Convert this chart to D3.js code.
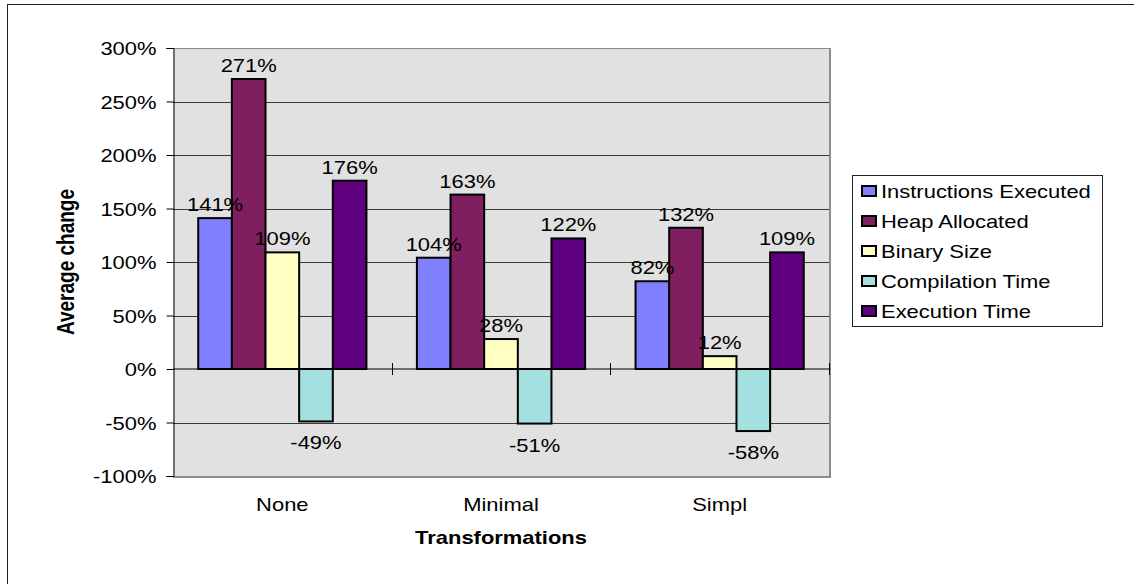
<!DOCTYPE html>
<html>
<head>
<meta charset="utf-8">
<script src="https://cdn.jsdelivr.net/npm/d3@7"></script>
<style>
  html, body { margin: 0; padding: 0; background: #fff; }
  svg { display: block; }
  text { font-family: "Liberation Sans", Arial, sans-serif; fill: #000; }
</style>
</head>
<body>
<svg id="chart" width="1134" height="584"></svg>
<script>
// Average change per transformation level
const categories = ["None", "Minimal", "Simpl"];
const seriesNames = ["Instructions Executed", "Heap Allocated", "Binary Size", "Compilation Time", "Execution Time"];
const instructionsExecuted = [141, 104, 82];
const heapAllocated = [271, 163, 132];
const binarySize = [109, 28, 12];
const compilationTime = [-49, -51, -58];
const executionTime = [176, 122, 109];
const yTicks = [-100, -50, 0, 50, 100, 150, 200, 250, 300];
const seriesColors = ["#8080ff", "#7f1f5f", "#ffffc4", "#a4e0e0", "#5e0080"];

const seriesValues = [instructionsExecuted, heapAllocated, binarySize, compilationTime, executionTime];

const svg = d3.select("#chart");
const SX = 1.22;       // horizontal text stretch
const FS = 18;

function place(sel, x, y, rot) {
  sel.attr("x", 0).attr("y", 0)
     .attr("transform", `translate(${x},${y}) scale(${SX},1)` + (rot ? ` rotate(${rot})` : ""));
  return sel;
}

// outer frame
svg.append("rect").attr("x", 7.5).attr("y", 4.5).attr("width", 1200).attr("height", 700)
  .attr("fill", "none").attr("stroke", "#222").attr("stroke-width", 1);

const plot = { left: 173, right: 829, top: 48, bottom: 476 };

const y = d3.scaleLinear().domain([-100, 300]).range([plot.bottom, plot.top]);
const x0 = d3.scaleBand().domain(categories).range([plot.left, plot.right]).paddingInner(0).paddingOuter(0);
const bw = x0.bandwidth();
const barW = bw / 6.5;
const x1 = d3.scaleBand().domain(seriesNames).range([barW * 0.75, bw - barW * 0.75]).padding(0);

// plot background
svg.append("rect").attr("x", plot.left).attr("y", plot.top)
  .attr("width", plot.right - plot.left).attr("height", plot.bottom - plot.top)
  .attr("fill", "#e1e1e1");

// gridlines
svg.append("g").selectAll("line").data(yTicks.filter(t => t !== -100 && t !== 0))
  .join("line")
  .attr("x1", plot.left).attr("x2", plot.right)
  .attr("y1", d => Math.round(y(d)) + 0.5).attr("y2", d => Math.round(y(d)) + 0.5)
  .attr("stroke", d => d === 300 ? "#8a8a8a" : "#3a3a3a").attr("stroke-width", 1);

// frame shadow right / bottom
svg.append("line").attr("x1", plot.right + 1).attr("x2", plot.right + 1)
  .attr("y1", plot.top).attr("y2", plot.bottom + 2)
  .attr("stroke", "#8c8c8c").attr("stroke-width", 2);
svg.append("line").attr("x1", plot.left).attr("x2", plot.right + 2)
  .attr("y1", plot.bottom + 1).attr("y2", plot.bottom + 1)
  .attr("stroke", "#8c8c8c").attr("stroke-width", 2);

// y axis
const yAxis = d3.axisLeft(y).tickValues(yTicks).tickSize(7).tickPadding(9)
  .tickFormat(d => d + "%");
const gy = svg.append("g").attr("transform", `translate(${plot.left + 0.5},0)`).call(yAxis);
gy.select(".domain").attr("stroke", "#000");
gy.selectAll(".tick line").attr("stroke", "#000");
gy.selectAll(".tick text").each(function () {
  const t = d3.select(this);
  t.attr("dy", null).attr("font-size", FS).attr("font-family", "Liberation Sans, Arial, sans-serif")
   .attr("text-anchor", "end").attr("dominant-baseline", "central");
  place(t, -17, 0.5);
});

// bars
const groups = svg.append("g").selectAll("g").data(categories).join("g")
  .attr("transform", d => `translate(${x0(d)},0)`);

groups.selectAll("rect").data((c, i) => seriesNames.map((s, k) => ({ s, k, v: seriesValues[k][i] })))
  .join("rect")
  .attr("x", d => x1(d.s))
  .attr("width", x1.bandwidth())
  .attr("y", d => y(Math.max(0, d.v)))
  .attr("height", d => Math.abs(y(d.v) - y(0)))
  .attr("fill", d => seriesColors[d.k])
  .attr("stroke", "#000").attr("stroke-width", 2);

// zero axis with category boundary ticks
svg.append("line").attr("x1", plot.left).attr("x2", plot.right)
  .attr("y1", y(0)).attr("y2", y(0)).attr("stroke", "#000").attr("stroke-width", 1);
const boundaries = categories.map(c => x0(c)).concat([plot.right]);
svg.append("g").selectAll("line").data(boundaries.slice(1)).join("line")
  .attr("x1", d => Math.round(d) + 0.5).attr("x2", d => Math.round(d) + 0.5)
  .attr("y1", y(0) - 6).attr("y2", y(0) + 6).attr("stroke", "#000");

// value labels
groups.each(function (c, i) {
  const g = d3.select(this);
  seriesNames.forEach((s, k) => {
    const v = seriesValues[k][i];
    const cx = x1(s) + x1.bandwidth() / 2;
    const ly = v >= 0 ? y(v) - 7 : y(v) + 28;
    place(g.append("text").attr("text-anchor", "middle").attr("font-size", FS).text(v + "%"), cx, ly);
  });
});

// category labels
categories.forEach(c => {
  place(svg.append("text").attr("text-anchor", "middle").attr("font-size", FS).text(c),
    x0(c) + bw / 2, 511);
});

// axis titles
place(svg.append("text").attr("text-anchor", "middle").attr("font-size", FS).attr("font-weight", "bold")
  .text("Transformations"), (plot.left + plot.right) / 2, 544);
place(svg.append("text").attr("text-anchor", "middle").attr("font-size", 19).attr("font-weight", "bold")
  .text("Average change"), 74, (plot.top + plot.bottom) / 2, -90);

// legend
const lg = svg.append("g");
lg.append("rect").attr("x", 852.5).attr("y", 175.5).attr("width", 250).attr("height", 151)
  .attr("fill", "#fff").attr("stroke", "#222").attr("stroke-width", 1);
seriesNames.forEach((s, k) => {
  const cy = 191 + k * 30;
  lg.append("rect").attr("x", 862).attr("y", cy - 5).attr("width", 14).attr("height", 10)
    .attr("fill", seriesColors[k]).attr("stroke", "#000").attr("stroke-width", 2);
  place(lg.append("text").attr("font-size", FS).attr("dominant-baseline", "central").text(s), 881, cy + 0.5);
});
</script>
</body>
</html>
